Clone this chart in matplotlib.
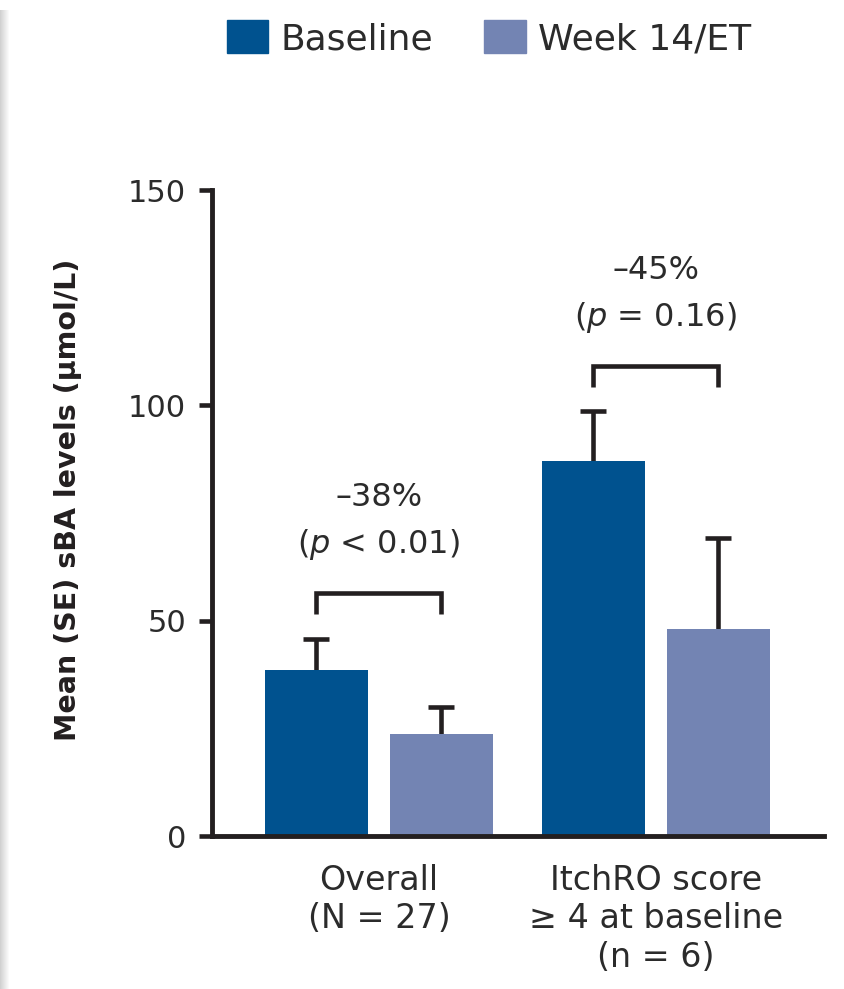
import numpy as np
import matplotlib
matplotlib.use("Agg")
import matplotlib.pyplot as plt
from matplotlib.patches import Patch

# Datos: media y error estandar (solo hacia arriba)
groups = ["Overall\n(N = 27)", "ItchRO score\n\u2265 4 at baseline\n(n = 6)"]
series = ["Baseline", "Week 14/ET"]
baseline_mean = [38.5, 87.1]
baseline_se = [7.2, 11.5]
week14_mean = [23.8, 48.1]
week14_se = [6.2, 21.0]
change_labels = ["\u201338%", "\u201345%"]
p_labels = [r"($\it{p}$ < 0.01)", r"($\it{p}$ = 0.16)"]
bracket_top = [56.5, 109.2]
yticks = [0, 50, 100, 150]

c_base = "#00528f"
c_week = "#7384b3"
c_line = "#231f20"
c_text = "#2b2b2b"

fig = plt.figure(figsize=(8.45, 9.89), dpi=100)

# franja gris del borde izquierdo
strip = fig.add_axes([0, 0, 10 / 845, 979 / 989])
strip.imshow(np.linspace(0.82, 1.0, 10).reshape(1, -1), cmap="gray", vmin=0, vmax=1,
             aspect="auto")
strip.axis("off")

ax = fig.add_axes([212 / 845, (989 - 836) / 989, 612 / 845, 646 / 989])

x = np.arange(len(groups))
w = 0.372
off = 0.226
cap = 0.047

ax.bar(x - off, baseline_mean, w, color=c_base, zorder=2)
ax.bar(x + off, week14_mean, w, color=c_week, zorder=2)

# barras de error: solo la mitad superior
for xs, m, se in [(x - off, baseline_mean, baseline_se), (x + off, week14_mean, week14_se)]:
    tops = np.array(m) + np.array(se)
    ax.vlines(xs, m, tops, color=c_line, lw=3.3, zorder=1)
    ax.hlines(tops, xs - cap, xs + cap, color=c_line, lw=3.3, zorder=1)

# corchetes de comparacion
for i in range(len(x)):
    top = bracket_top[i]
    ax.plot([x[i] - off, x[i] - off, x[i] + off, x[i] + off],
            [top - 4.9, top, top, top - 4.9], color=c_line, lw=3.3,
            solid_joinstyle="miter", solid_capstyle="butt")
    ax.text(x[i], top + 22.2, change_labels[i], ha="center", va="center",
            fontsize=23, color=c_text)
    ax.text(x[i], top + 11.1, p_labels[i], ha="center", va="center",
            fontsize=23, color=c_text)

ax.set_xlim(-0.603, 1.608)
ax.set_ylim(0, 150)
ax.set_yticks(yticks)
ax.set_xticks(x)
ax.set_xticklabels(groups, fontsize=24, color=c_text, linespacing=1.22)
ax.tick_params(axis="x", length=0, pad=20)
ax.tick_params(axis="y", direction="out", length=9.5, width=3.3, color=c_line,
               labelsize=22, labelcolor=c_text, pad=9)

for s in ["top", "right"]:
    ax.spines[s].set_visible(False)
for s in ["left", "bottom"]:
    ax.spines[s].set_linewidth(3.5)
    ax.spines[s].set_color(c_line)
    ax.spines[s].set_capstyle("projecting")

ax.set_ylabel("Mean (SE) sBA levels (\u03bcmol/L)", fontsize=20.5, fontweight="bold",
              color=c_line)
ax.yaxis.set_label_coords(-0.212, 0.52)

handles = [Patch(color=c_base), Patch(color=c_week)]
fig.legend(handles, series, loc="center", bbox_to_anchor=(489 / 845, 1 - 38 / 989),
           ncol=2, frameon=False, fontsize=26, handlelength=1.15, handleheight=1.05,
           handletextpad=0.35, columnspacing=1.4, labelcolor=c_text)

fig.savefig("out.png", dpi=100)
